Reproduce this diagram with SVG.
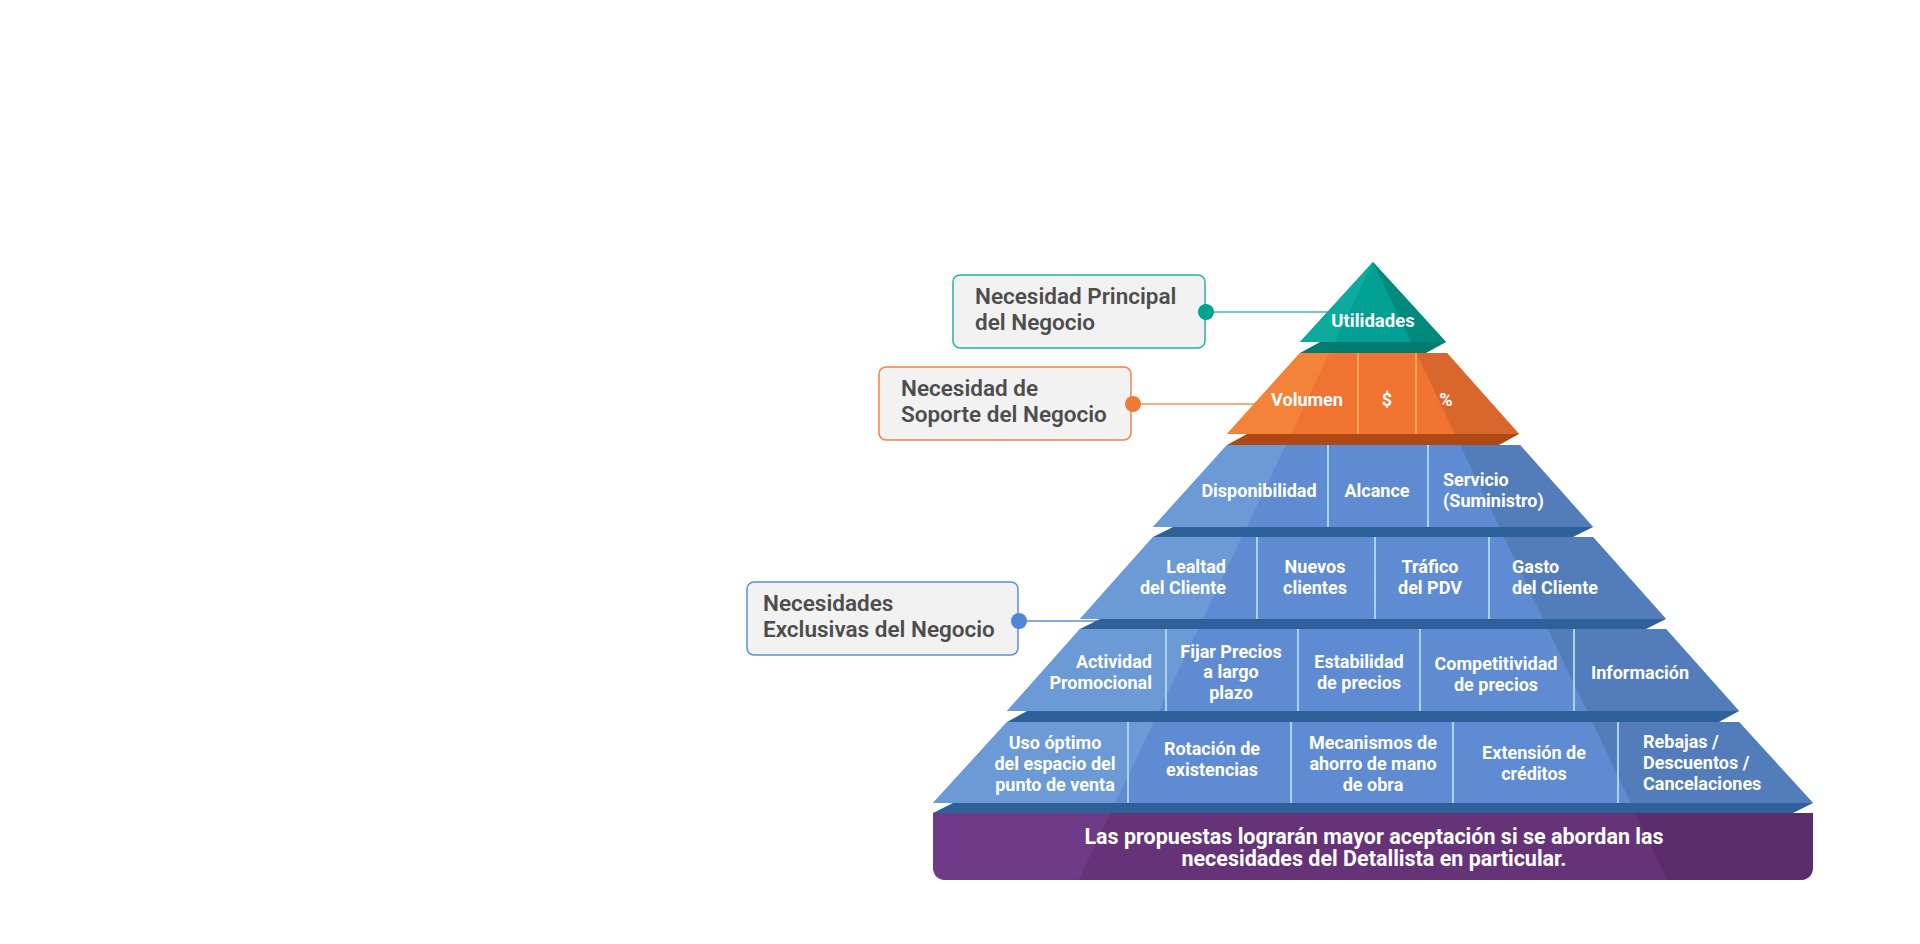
<svg xmlns="http://www.w3.org/2000/svg" xmlns:xlink="http://www.w3.org/1999/xlink" width="1920" height="944" viewBox="0 0 1920 944">
<style>
.w{font-family:Roboto,"Liberation Sans",sans-serif;font-weight:700;fill:#ffffff;font-size:18px}
.wc{text-anchor:middle}
.we{text-anchor:end}
.big{font-size:21.5px}
.top{font-size:18.5px}
.lbl{font-family:Roboto,"Liberation Sans",sans-serif;font-weight:600;fill:#4d4d4d;font-size:22.5px}
.box{fill:#f2f2f2;stroke-width:1.5}
.sepb{stroke:#a8d2f2;stroke-width:2}
.sepo{stroke:#f9a64c;stroke-width:2}
.conn{stroke-width:1.5;fill:none}
</style>
<defs>
<polygon id="leftFace" points="1373,240 1373,262 1069,900 700,900 700,240"/>
<polygon id="rightFace" points="1373,240 1373,262 1677,900 1900,900 1900,240"/>
<clipPath id="c0"><polygon points="1373,262 1446,342 1300,342"/></clipPath>
<clipPath id="c1"><polygon points="1300,353 1447,353 1519,434 1227,434"/></clipPath>
<clipPath id="c2"><polygon points="1227,445 1520,445 1593,527 1153,527"/></clipPath>
<clipPath id="c3"><polygon points="1153,537 1593,537 1666,619 1080,619"/></clipPath>
<clipPath id="c4"><polygon points="1080,629 1666,629 1739,711 1007,711"/></clipPath>
<clipPath id="c5"><polygon points="1007,722 1739,722 1813,803 933,803"/></clipPath>
<clipPath id="c6"><path d="M933,813 H1813 V866 Q1813,880 1799,880 H947 Q933,880 933,866 Z"/></clipPath>
</defs>
<rect width="1920" height="944" fill="#ffffff"/>

<g id="box-principal">
<rect class="box" x="953" y="275" width="252" height="73" rx="7" stroke="#2bb0a4"/>
<text class="lbl" x="975" y="304">Necesidad Principal</text>
<text class="lbl" x="975" y="330">del Negocio</text>
</g>
<g id="box-soporte">
<rect class="box" x="879" y="367" width="252" height="73" rx="7" stroke="#f2824a"/>
<text class="lbl" x="901" y="396">Necesidad de</text>
<text class="lbl" x="901" y="422">Soporte del Negocio</text>
</g>
<g id="box-exclusivas">
<rect class="box" x="747" y="582" width="271" height="73" rx="7" stroke="#5b8fd9"/>
<text class="lbl" x="763" y="611">Necesidades</text>
<text class="lbl" x="763" y="637">Exclusivas del Negocio</text>
</g>

<g id="connectors">
<line class="conn" x1="1206" y1="312" x2="1345" y2="312" stroke="#3fb8ad"/>
<circle cx="1206" cy="312" r="8" fill="#00a392"/>
<line class="conn" x1="1133" y1="404" x2="1270" y2="404" stroke="#f4925a"/>
<circle cx="1133" cy="404" r="8" fill="#f07a35"/>
<line class="conn" x1="1019" y1="621" x2="1100" y2="621" stroke="#5b8fd9"/>
<circle cx="1019" cy="621" r="8" fill="#4f86d8"/>
</g>

<g id="strips">
<polygon points="1320,342 1446,342 1426,353 1300,353" fill="#007b70"/>
<polygon points="1247,434 1519,434 1499,445 1227,445" fill="#af4914"/>
<polygon points="1173,527 1593,527 1573,537 1153,537" fill="#2e6099"/>
<polygon points="1100,619 1666,619 1646,629 1080,629" fill="#2e6099"/>
<polygon points="1027,711 1739,711 1719,722 1007,722" fill="#2e6099"/>
<polygon points="953,803 1813,803 1793,813 933,813" fill="#2e6099"/>
</g>

<g id="level-utilidades">
<g clip-path="url(#c0)">
<rect x="1290" y="255" width="170" height="95" fill="#00a194"/>
<use xlink:href="#leftFace" fill="#0daa9e"/>
<use xlink:href="#rightFace" fill="#008a7e"/>
</g>
<text class="w wc top" x="1373" y="327">Utilidades</text>
</g>

<g id="level-soporte">
<g clip-path="url(#c1)">
<rect x="1220" y="350" width="310" height="90" fill="#f07331"/>
<use xlink:href="#leftFace" fill="#f28338"/>
<use xlink:href="#rightFace" fill="#d9672d"/>
</g>
<line class="sepo" x1="1358" y1="353" x2="1358" y2="434"/>
<line class="sepo" x1="1416" y1="353" x2="1416" y2="434"/>
<text class="w wc" x="1307" y="406">Volumen</text>
<text class="w wc" x="1387" y="406">$</text>
<text class="w wc" x="1446" y="406">%</text>
</g>

<g id="level-1">
<g clip-path="url(#c2)">
<rect x="1140" y="440" width="470" height="95" fill="#5f8bd3"/>
<use xlink:href="#leftFace" fill="#6b9ad6"/>
<use xlink:href="#rightFace" fill="#537cbb"/>
</g>
<line class="sepb" x1="1328" y1="445" x2="1328" y2="527"/>
<line class="sepb" x1="1428" y1="445" x2="1428" y2="527"/>
<text class="w wc" x="1259" y="497">Disponibilidad</text>
<text class="w wc" x="1377" y="497">Alcance</text>
<text class="w" x="1443" y="486">Servicio</text>
<text class="w" x="1443" y="507">(Suministro)</text>
</g>

<g id="level-2">
<g clip-path="url(#c3)">
<rect x="1070" y="530" width="610" height="95" fill="#5f8bd3"/>
<use xlink:href="#leftFace" fill="#6b9ad6"/>
<use xlink:href="#rightFace" fill="#537cbb"/>
</g>
<line class="sepb" x1="1257" y1="537" x2="1257" y2="619"/>
<line class="sepb" x1="1375" y1="537" x2="1375" y2="619"/>
<line class="sepb" x1="1489" y1="537" x2="1489" y2="619"/>
<text class="w we" x="1226" y="573">Lealtad</text>
<text class="w we" x="1226" y="594">del Cliente</text>
<text class="w wc" x="1315" y="573">Nuevos</text>
<text class="w wc" x="1315" y="594">clientes</text>
<text class="w wc" x="1430" y="573">Tráfico</text>
<text class="w wc" x="1430" y="594">del PDV</text>
<text class="w" x="1512" y="573">Gasto</text>
<text class="w" x="1512" y="594">del Cliente</text>
</g>

<g id="level-3">
<g clip-path="url(#c4)">
<rect x="1000" y="625" width="750" height="95" fill="#5f8bd3"/>
<use xlink:href="#leftFace" fill="#6b9ad6"/>
<use xlink:href="#rightFace" fill="#537cbb"/>
</g>
<line class="sepb" x1="1166" y1="629" x2="1166" y2="711"/>
<line class="sepb" x1="1298" y1="629" x2="1298" y2="711"/>
<line class="sepb" x1="1420" y1="629" x2="1420" y2="711"/>
<line class="sepb" x1="1574" y1="629" x2="1574" y2="711"/>
<text class="w we" x="1152" y="668">Actividad</text>
<text class="w we" x="1152" y="689">Promocional</text>
<text class="w wc" x="1231" y="658">Fijar Precios</text>
<text class="w wc" x="1231" y="678">a largo</text>
<text class="w wc" x="1231" y="699">plazo</text>
<text class="w wc" x="1359" y="668">Estabilidad</text>
<text class="w wc" x="1359" y="689">de precios</text>
<text class="w wc" x="1496" y="670">Competitividad</text>
<text class="w wc" x="1496" y="691">de precios</text>
<text class="w wc" x="1640" y="679">Información</text>
</g>

<g id="level-4">
<g clip-path="url(#c5)">
<rect x="925" y="718" width="900" height="90" fill="#5f8bd3"/>
<use xlink:href="#leftFace" fill="#6b9ad6"/>
<use xlink:href="#rightFace" fill="#537cbb"/>
</g>
<line class="sepb" x1="1128" y1="722" x2="1128" y2="803"/>
<line class="sepb" x1="1291" y1="722" x2="1291" y2="803"/>
<line class="sepb" x1="1453" y1="722" x2="1453" y2="803"/>
<line class="sepb" x1="1618" y1="722" x2="1618" y2="803"/>
<text class="w wc" x="1055" y="749">Uso óptimo</text>
<text class="w wc" x="1055" y="770">del espacio del</text>
<text class="w wc" x="1055" y="791">punto de venta</text>
<text class="w wc" x="1212" y="755">Rotación de</text>
<text class="w wc" x="1212" y="776">existencias</text>
<text class="w wc" x="1373" y="749">Mecanismos de</text>
<text class="w wc" x="1373" y="770">ahorro de mano</text>
<text class="w wc" x="1373" y="791">de obra</text>
<text class="w wc" x="1534" y="759">Extensión de</text>
<text class="w wc" x="1534" y="780">créditos</text>
<text class="w" x="1643" y="748">Rebajas /</text>
<text class="w" x="1643" y="769">Descuentos /</text>
<text class="w" x="1643" y="790">Cancelaciones</text>
</g>

<g id="base">
<g clip-path="url(#c6)">
<rect x="925" y="810" width="900" height="75" fill="#663278"/>
<use xlink:href="#leftFace" fill="#6f3a88"/>
<use xlink:href="#rightFace" fill="#5b2c6b"/>
</g>
<text class="w wc big" x="1374" y="844">Las propuestas lograrán mayor aceptación si se abordan las</text>
<text class="w wc big" x="1374" y="866">necesidades del Detallista en particular.</text>
</g>
</svg>
